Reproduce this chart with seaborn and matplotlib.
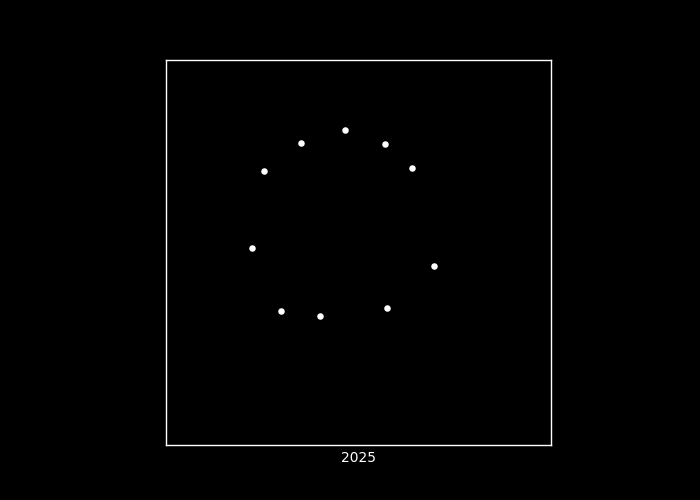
import matplotlib
matplotlib.use("Agg")
import matplotlib.pyplot as plt
import seaborn as sns
import pandas as pd

x_vals = [-0.070, 0.138, 0.278, 0.392, 0.148, -0.200, -0.403, -0.553, -0.491, -0.299]
y_vals = [0.636, 0.564, 0.439, -0.070, -0.288, -0.330, -0.304, 0.023, 0.423, 0.569]
xlabel = "2025"

sns.set_theme(style="dark")
plt.rcParams['font.family'] = ['DejaVu Sans']

df = pd.DataFrame({"x": x_vals, "y": y_vals})

fig = plt.figure(figsize=(7, 5), dpi=100, facecolor="black")
ax = fig.add_axes([166/700, 1-445/500, 385/700, 385/500])
ax.set_facecolor("black")
sns.scatterplot(data=df, x="x", y="y", color="white", s=22, linewidth=0, ax=ax)
ax.set_xlim(-1, 1)
ax.set_ylim(-1, 1)
ax.set_xticks([])
ax.set_yticks([])
ax.grid(False)
for sp in ax.spines.values():
    sp.set_visible(True)
    sp.set_color("white")
    sp.set_linewidth(1)
ax.set_xlabel(xlabel, color="white", fontsize=10, labelpad=4)
ax.set_ylabel("")
fig.savefig("out.png", facecolor="black")
